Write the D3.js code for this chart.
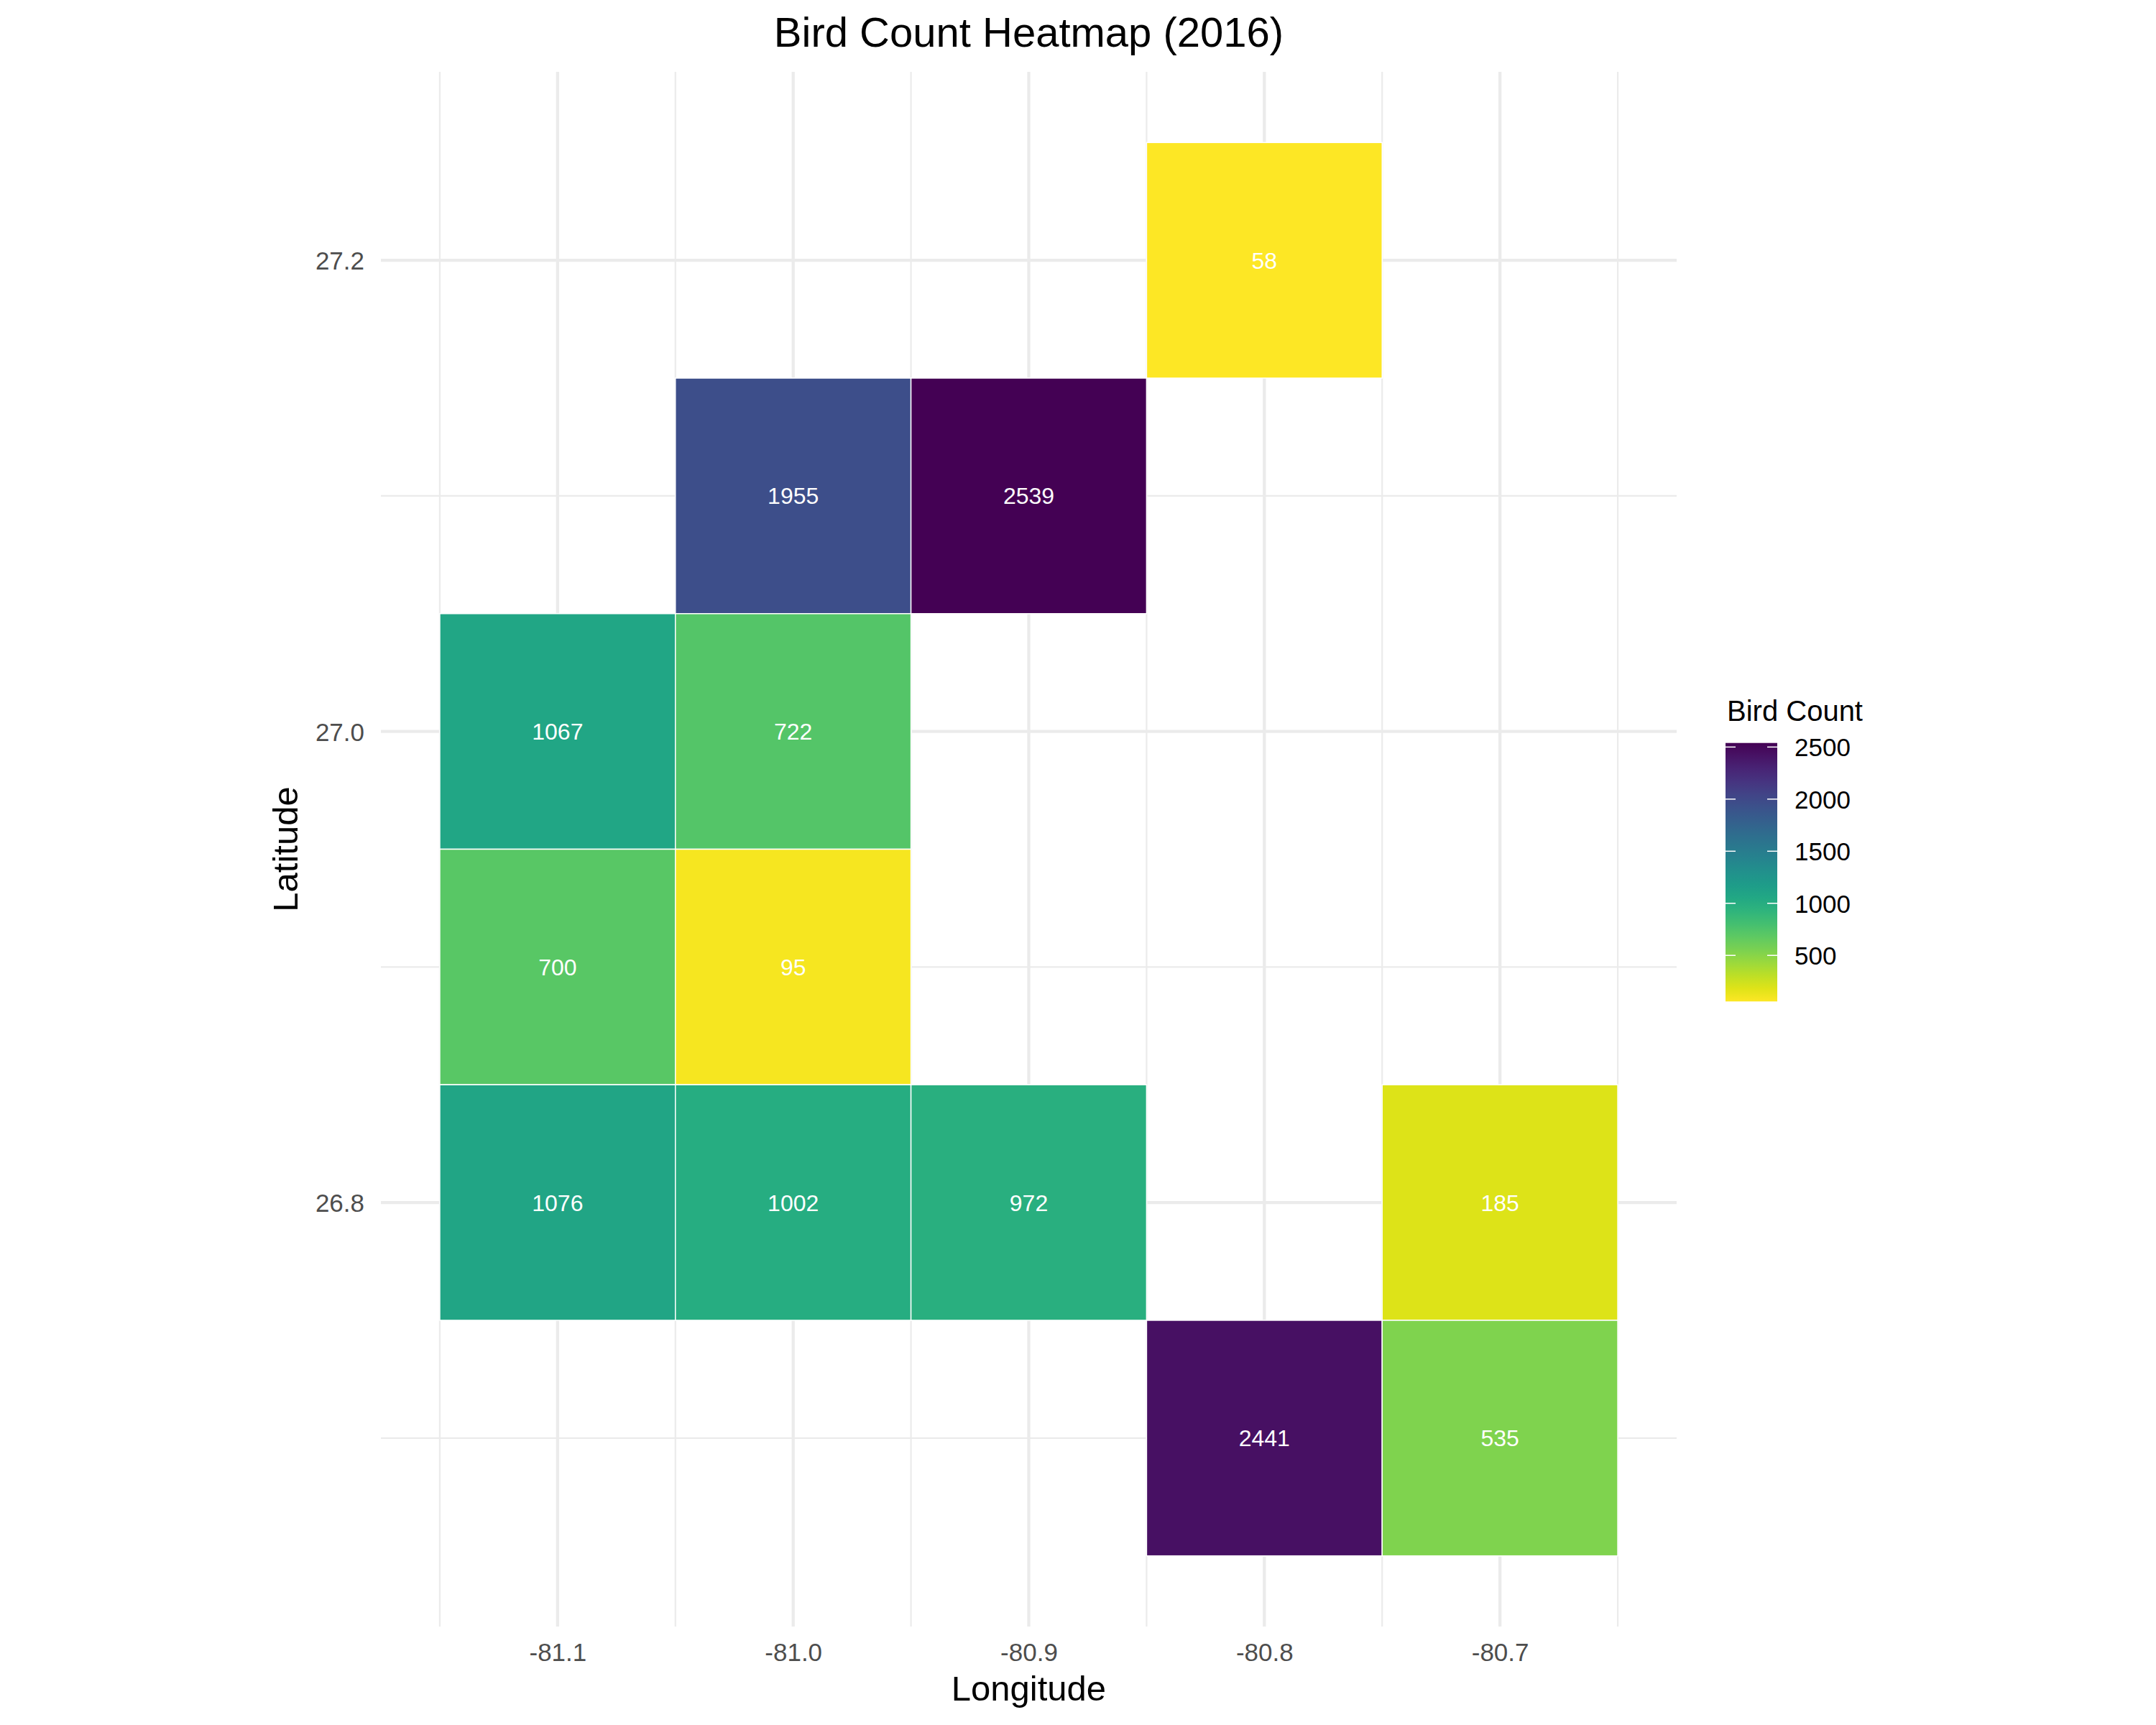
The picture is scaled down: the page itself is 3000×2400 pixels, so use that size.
<!DOCTYPE html>
<html>
<head>
<meta charset="utf-8">
<script src="https://cdn.jsdelivr.net/npm/d3@7"></script>
<style>
  html, body { margin: 0; padding: 0; background: #fff; }
  svg { display: block; font-family: "Liberation Sans", Arial, Helvetica, sans-serif; }
</style>
</head>
<body>
<svg id="chart" width="3000" height="2400"></svg>
<script>
// ---- data ----
const longitudes = [-80.8, -81.0, -80.9, -81.1, -81.0, -81.1, -81.0, -81.1, -81.0, -80.9, -80.7, -80.8, -80.7];
const latitudes  = [27.2, 27.1, 27.1, 27.0, 27.0, 26.9, 26.9, 26.8, 26.8, 26.8, 26.8, 26.7, 26.7];
const counts     = [58, 1955, 2539, 1067, 722, 700, 95, 1076, 1002, 972, 185, 2441, 535];
const xTicks = [-81.1, -81.0, -80.9, -80.8, -80.7];
const xMinor = [-81.15, -81.05, -80.95, -80.85, -80.75, -80.65];
const yTicks = [26.8, 27.0, 27.2];
const yMinor = [26.7, 26.9, 27.1];
const legendTicks = [500, 1000, 1500, 2000, 2500];
const titleText = "Bird Count Heatmap (2016)";
const xTitle = "Longitude";
const yTitle = "Latitude";
const legendTitle = "Bird Count";

const cells = counts.map((c, i) => ({ lon: longitudes[i], lat: latitudes[i], count: c }));
const step = 0.1;

const svg = d3.select("#chart");
const panel = { left: 530, right: 2333, top: 100, bottom: 2263 };

const x = d3.scaleLinear().domain([-81.175, -80.625]).range([panel.left, panel.right]);
const y = d3.scaleLinear().domain([26.62, 27.28]).range([panel.bottom, panel.top]);

const cMin = d3.min(counts), cMax = d3.max(counts);
const color = v => d3.interpolateViridis(1 - (v - cMin) / (cMax - cMin));
const fmt1 = d => d.toFixed(1);

// ---- grid ----
const grid = svg.append("g");
grid.selectAll(".xminor").data(xMinor).join("line")
  .attr("x1", d => x(d)).attr("x2", d => x(d))
  .attr("y1", panel.top).attr("y2", panel.bottom)
  .attr("stroke", "#ebebeb").attr("stroke-width", 2.2);
grid.selectAll(".yminor").data(yMinor).join("line")
  .attr("y1", d => y(d)).attr("y2", d => y(d))
  .attr("x1", panel.left).attr("x2", panel.right)
  .attr("stroke", "#ebebeb").attr("stroke-width", 2.2);
grid.selectAll(".xmajor").data(xTicks).join("line")
  .attr("x1", d => x(d)).attr("x2", d => x(d))
  .attr("y1", panel.top).attr("y2", panel.bottom)
  .attr("stroke", "#ebebeb").attr("stroke-width", 4.3);
grid.selectAll(".ymajor").data(yTicks).join("line")
  .attr("y1", d => y(d)).attr("y2", d => y(d))
  .attr("x1", panel.left).attr("x2", panel.right)
  .attr("stroke", "#ebebeb").attr("stroke-width", 4.3);

// ---- tiles ----
const tiles = svg.append("g");
tiles.selectAll("rect").data(cells).join("rect")
  .attr("x", d => x(d.lon - step / 2))
  .attr("y", d => y(d.lat + step / 2))
  .attr("width", d => x(d.lon + step / 2) - x(d.lon - step / 2))
  .attr("height", d => y(d.lat - step / 2) - y(d.lat + step / 2))
  .attr("fill", d => color(d.count))
  .attr("stroke", "#ffffff").attr("stroke-width", 1.5);

tiles.selectAll("text").data(cells).join("text")
  .attr("x", d => x(d.lon))
  .attr("y", d => y(d.lat))
  .attr("dy", "0.36em")
  .attr("text-anchor", "middle")
  .attr("fill", "#ffffff")
  .attr("font-size", 32)
  .text(d => d.count);

// ---- axes ----
const xAxis = svg.append("g").attr("transform", `translate(0, ${2311 - 35 * 0.72})`)
  .call(d3.axisBottom(x).tickValues(xTicks).tickSize(0).tickPadding(0).tickFormat(fmt1));
xAxis.select(".domain").remove();
xAxis.selectAll("text")
  .attr("font-size", 35).attr("fill", "#4d4d4d")
  .attr("font-family", "Liberation Sans, Arial, sans-serif")
  .attr("dy", "0.72em").attr("y", 0);

const yAxis = svg.append("g").attr("transform", `translate(507, 0)`)
  .call(d3.axisLeft(y).tickValues(yTicks).tickSize(0).tickPadding(0).tickFormat(fmt1));
yAxis.select(".domain").remove();
yAxis.selectAll("text")
  .attr("font-size", 35).attr("fill", "#4d4d4d")
  .attr("font-family", "Liberation Sans, Arial, sans-serif")
  .attr("x", 0).attr("dy", "0.36em");

// ---- titles ----
svg.append("text")
  .attr("x", (panel.left + panel.right) / 2).attr("y", 65)
  .attr("text-anchor", "middle").attr("font-size", 58).attr("fill", "#000")
  .text(titleText);

svg.append("text")
  .attr("x", (panel.left + panel.right) / 2).attr("y", 2366)
  .attr("text-anchor", "middle").attr("font-size", 49).attr("fill", "#000")
  .text(xTitle);

svg.append("text")
  .attr("transform", `translate(414, ${(panel.top + panel.bottom) / 2}) rotate(-90)`)
  .attr("text-anchor", "middle").attr("font-size", 49).attr("fill", "#000")
  .text(yTitle);

// ---- legend ----
const lg = { x: 2401, w: 72, top: 1033.7, bottom: 1393.3 };
const ly = d3.scaleLinear().domain([cMin, cMax]).range([lg.bottom, lg.top]);

const defs = svg.append("defs");
const grad = defs.append("linearGradient").attr("id", "legendGrad")
  .attr("x1", 0).attr("y1", 1).attr("x2", 0).attr("y2", 0);
d3.range(0, 1.0001, 0.05).forEach(t => {
  grad.append("stop").attr("offset", t).attr("stop-color", color(cMin + t * (cMax - cMin)));
});

svg.append("text")
  .attr("x", 2403).attr("y", 1003)
  .attr("font-size", 40).attr("fill", "#000")
  .text(legendTitle);

svg.append("rect")
  .attr("x", lg.x).attr("y", lg.top)
  .attr("width", lg.w).attr("height", lg.bottom - lg.top)
  .attr("fill", "url(#legendGrad)");

const lticks = svg.append("g");
lticks.selectAll(".tl").data(legendTicks).join("line")
  .attr("x1", lg.x).attr("x2", lg.x + 14)
  .attr("y1", d => ly(d)).attr("y2", d => ly(d))
  .attr("stroke", "#fff").attr("stroke-width", 1.5);
lticks.selectAll(".tr").data(legendTicks).join("line")
  .attr("x1", lg.x + lg.w - 14).attr("x2", lg.x + lg.w)
  .attr("y1", d => ly(d)).attr("y2", d => ly(d))
  .attr("stroke", "#fff").attr("stroke-width", 1.5);

const legAxis = svg.append("g").attr("transform", `translate(2497, 0)`)
  .call(d3.axisRight(ly).tickValues(legendTicks).tickSize(0).tickPadding(0).tickFormat(d => String(d)));
legAxis.select(".domain").remove();
legAxis.selectAll("text")
  .attr("font-size", 35).attr("fill", "#000")
  .attr("font-family", "Liberation Sans, Arial, sans-serif")
  .attr("x", 0).attr("dy", "0.36em");
</script>
</body>
</html>
